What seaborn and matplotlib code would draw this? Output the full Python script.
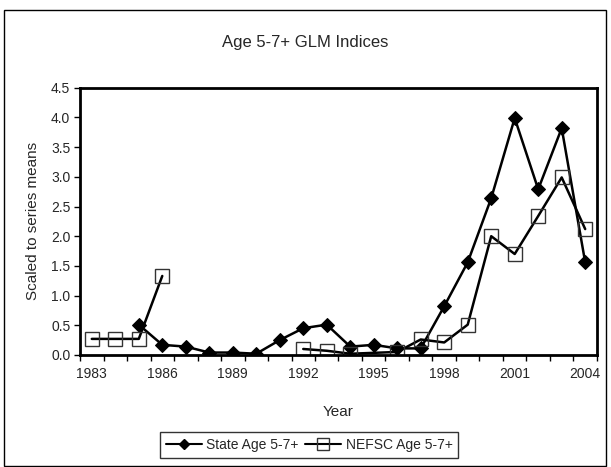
import numpy as np
import pandas as pd
import matplotlib
matplotlib.use("Agg")
import matplotlib.pyplot as plt
import seaborn as sns
from matplotlib.patches import Rectangle
from matplotlib.lines import Line2D

years = list(range(1983, 2005))
state = [np.nan, np.nan, 0.51, 0.17, 0.14, 0.04, 0.04, 0.02, 0.25, 0.45, 0.51,
         0.14, 0.17, 0.11, 0.11, 0.82, 1.56, 2.64, 3.99, 2.79, 3.82, 1.56]
nefsc = [0.27, 0.27, 0.27, 1.33, np.nan, np.nan, np.nan, np.nan, np.nan, 0.10, 0.07,
         0.02, np.nan, 0.05, 0.26, 0.21, 0.51, 2.00, 1.70, 2.34, 2.99, 2.12]
# NEFSC series is broken between 1986 and 1992
nefsc_segment = [0, 0, 0, 0, 0, 0, 0, 0, 0, 1, 1, 1, 1, 1, 1, 1, 1, 1, 1, 1, 1, 1]

sns.set_style("ticks")
plt.rcParams['font.family'] = ['Liberation Sans', 'DejaVu Sans']

df_state = pd.DataFrame({"year": years, "value": state}).dropna()
df_nefsc = pd.DataFrame({"year": years, "value": nefsc, "seg": nefsc_segment}).dropna()

fig = plt.figure(figsize=(6.11, 4.67), dpi=100)
ax = fig.add_axes([0.131, 0.240, 0.846, 0.572])

sns.lineplot(data=df_state, x="year", y="value", ax=ax, color="black", lw=1.8,
             marker="D", markersize=7, markerfacecolor="black", markeredgecolor="black",
             legend=False)
sns.lineplot(data=df_nefsc, x="year", y="value", units="seg", estimator=None, ax=ax,
             color="black", lw=1.8, marker="s", markersize=10, markerfacecolor="none",
             markeredgecolor="#333333", markeredgewidth=1.0, legend=False)

ax.set_xlim(1982.5, 2004.5)
ax.set_ylim(0, 4.5)
ax.set_yticks(np.arange(0, 4.51, 0.5))
ax.set_yticklabels([f"{v:.1f}" for v in np.arange(0, 4.51, 0.5)], fontsize=10)
ax.set_xticks(range(1983, 2005, 3))
ax.set_xticklabels([str(y) for y in range(1983, 2005, 3)], fontsize=10)
ax.set_xticks(np.arange(1982.5, 2005, 1), minor=True)
ax.tick_params(axis="x", which="major", length=0, pad=9)
ax.tick_params(axis="x", which="minor", length=4, width=1, color="black")
ax.tick_params(axis="y", length=4, width=1, color="black", pad=3)
for s in ax.spines.values():
    s.set_linewidth(2)
    s.set_color("black")

ax.set_xlabel("Year", fontsize=11, labelpad=17)
ax.set_ylabel("Scaled to series means", fontsize=11, labelpad=8)
fig.text(0.5, 0.91, "Age 5-7+ GLM Indices", ha="center", va="center", fontsize=12)

handles = [
    Line2D([], [], color="black", lw=1.5, marker="D", markersize=5,
           markerfacecolor="black", markeredgecolor="black"),
    Line2D([], [], color="black", lw=1.5, marker="s", markersize=8,
           markerfacecolor="none", markeredgecolor="#333333", markeredgewidth=1.0),
]
labels = ["State Age 5-7+", "NEFSC Age 5-7+"]
leg = fig.legend(handles, labels, loc="center", bbox_to_anchor=(0.506, 0.047), ncol=2,
                 frameon=True, fancybox=False, edgecolor="black", fontsize=10,
                 handlelength=2.6, columnspacing=0.5, handletextpad=0.3,
                 borderpad=0.4)
leg.get_frame().set_linewidth(1)

fig.patches.append(Rectangle((0.007, 0.002), 0.984, 0.976, transform=fig.transFigure,
                             fill=False, edgecolor="black", linewidth=1))

fig.savefig("out.png", dpi=100)
